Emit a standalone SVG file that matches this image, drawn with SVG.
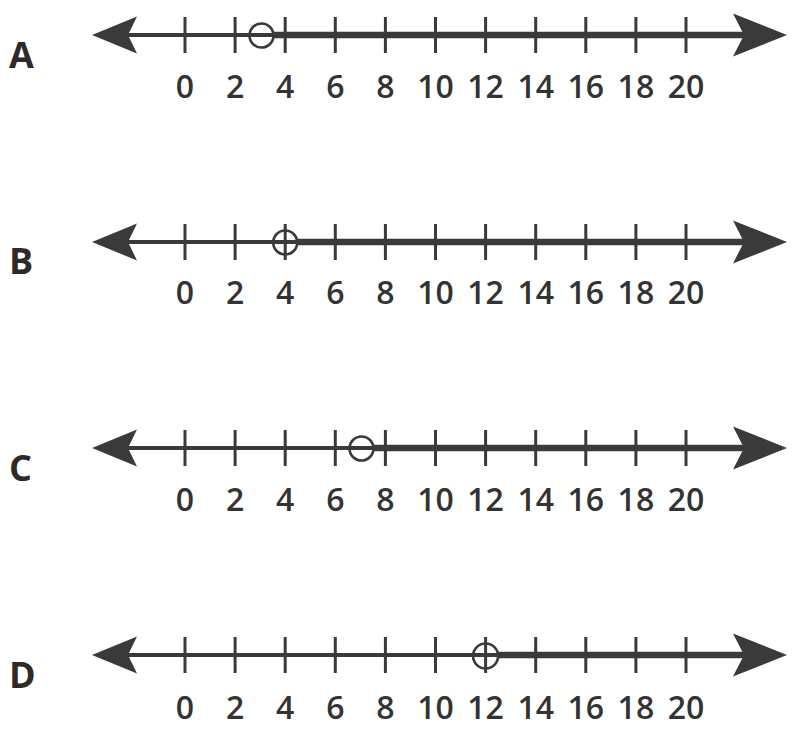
<svg xmlns="http://www.w3.org/2000/svg" width="794" height="735" viewBox="0 0 794 735">
<style>
.thin{stroke:#3a3a3a;stroke-width:4;fill:none}
.thick{stroke:#3a3a3a;stroke-width:6.5;fill:none}
.tick{stroke:#3a3a3a;stroke-width:3;fill:none}
.hole{stroke:#3a3a3a;stroke-width:2.6;fill:none}
.head{fill:#3a3a3a;stroke:none}
.num{font-family:"Open Sans","Noto Sans",sans-serif;font-size:32px;font-weight:600;fill:#333;text-anchor:middle}
.let{font-family:"Open Sans","Noto Sans",sans-serif;font-size:36px;font-weight:bold;fill:#2e2a2a}
</style>
<defs>
<g id="axis">
<path class="head" d="M92,0 L137,-18.5 L128,0 L137,18.5 Z"/>
<path class="head" d="M787,0 L733,-21.5 L744,0 L733,21.5 Z"/>
<path class="tick" d="M185,-18V18M235.1,-18V18M285.2,-18V18M335.3,-18V18M385.4,-18V18M435.5,-18V18M485.6,-18V18M535.7,-18V18M585.8,-18V18M635.9,-18V18M686,-18V18"/>
</g>
<g id="nums">
<text class="num" x="185">0</text>
<text class="num" x="235.1">2</text>
<text class="num" x="285.2">4</text>
<text class="num" x="335.3">6</text>
<text class="num" x="385.4">8</text>
<text class="num" x="435.5">10</text>
<text class="num" x="485.6">12</text>
<text class="num" x="535.7">14</text>
<text class="num" x="585.8">16</text>
<text class="num" x="635.9">18</text>
<text class="num" x="686">20</text>
</g>
</defs>
<g id="lineA" transform="translate(0,35)">
<path class="thin" d="M128,0H274"/>
<path class="thick" d="M273,0H745"/>
<use href="#axis"/>
<circle class="hole" cx="261.5" cy="0.5" r="12"/>
<g transform="translate(0,63)"><use href="#nums"/></g>
<text class="let" x="9" y="33">A</text>
</g>
<g id="lineB" transform="translate(0,242)">
<path class="thin" d="M128,0H298"/>
<path class="thick" d="M297,0H745"/>
<use href="#axis"/>
<circle class="hole" cx="285.2" cy="0.5" r="12"/>
<g transform="translate(0,62)"><use href="#nums"/></g>
<text class="let" x="9" y="32">B</text>
</g>
<g id="lineC" transform="translate(0,448)">
<path class="thin" d="M128,0H374"/>
<path class="thick" d="M373,0H745"/>
<use href="#axis"/>
<circle class="hole" cx="361.5" cy="0.5" r="12"/>
<g transform="translate(0,63)"><use href="#nums"/></g>
<text class="let" x="9" y="33">C</text>
</g>
<g id="lineD" transform="translate(0,655)">
<path class="thin" d="M128,0H498"/>
<path class="thick" d="M497,0H745"/>
<use href="#axis"/>
<circle class="hole" cx="485.6" cy="1" r="12.5"/>
<g transform="translate(0,64)"><use href="#nums"/></g>
<text class="let" x="9" y="33">D</text>
</g>
</svg>
